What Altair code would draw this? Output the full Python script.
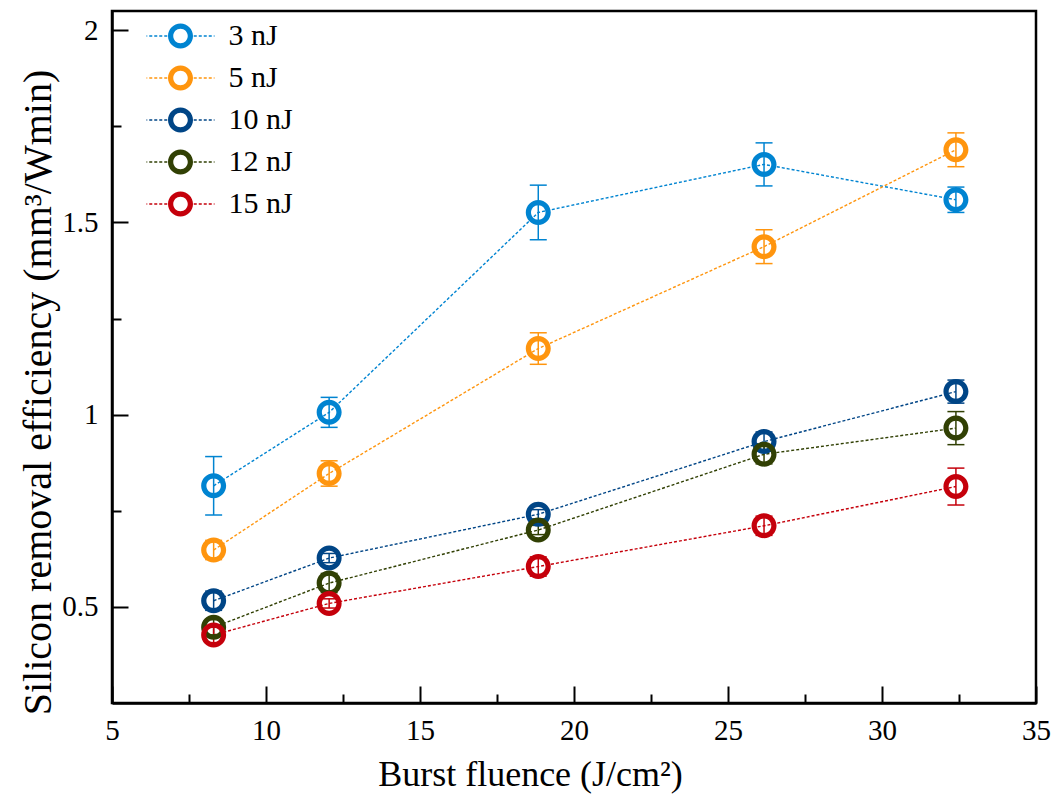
import altair as alt
import pandas as pd

# ---------------- data ----------------
fluence = [8.3, 12.05, 18.84, 26.17, 32.4]
series = ["3 nJ", "5 nJ", "10 nJ", "12 nJ", "15 nJ"]
colors = ["#0084d1", "#ff950e", "#004586", "#314004", "#c5000b"]

eff_3nJ = [0.815, 1.006, 1.526, 1.651, 1.559]
err_3nJ = [0.076, 0.039, 0.071, 0.056, 0.033]
eff_5nJ = [0.648, 0.847, 1.172, 1.437, 1.689]
err_5nJ = [0.025, 0.033, 0.041, 0.044, 0.044]
eff_10nJ = [0.516, 0.627, 0.741, 0.930, 1.060]
err_10nJ = [0.025, 0.012, 0.012, 0.025, 0.030]
eff_12nJ = [0.447, 0.562, 0.700, 0.897, 0.965]
err_12nJ = [0.020, 0.025, 0.012, 0.025, 0.043]
eff_15nJ = [0.427, 0.509, 0.605, 0.711, 0.813]
err_15nJ = [0.020, 0.012, 0.025, 0.025, 0.048]

x_ticks = [5, 7.5, 10, 12.5, 15, 17.5, 20, 22.5, 25, 27.5, 30, 32.5, 35]
y_ticks = [0.5, 0.75, 1.0, 1.25, 1.5, 1.75, 2.0]

effs = [eff_3nJ, eff_5nJ, eff_10nJ, eff_12nJ, eff_15nJ]
errs = [err_3nJ, err_5nJ, err_10nJ, err_12nJ, err_15nJ]
rows = []
for s, ev, er in zip(series, effs, errs):
    for f, v, e in zip(fluence, ev, er):
        rows.append({"series": s, "fluence": f, "eff": v, "lo": v - e, "hi": v + e})
df = pd.DataFrame(rows)

# ---------------- styling ----------------
FONT = "Liberation Serif"

r_in = 0.58
ANNULUS = ("M -1 0 A 1 1 0 1 0 1 0 A 1 1 0 1 0 -1 0 Z "
           f"M -{r_in} 0 A {r_in} {r_in} 0 1 1 {r_in} 0 A {r_in} {r_in} 0 1 1 -{r_in} 0 Z")

# legend symbol: ring + dotted line through it (unit = 12.5 px)
dash_parts = []
half_t = 0.06
pos = 1.06
while pos < 2.72:
    end = min(pos + 0.24, 2.72)
    dash_parts.append(f"M {pos:.3f} -{half_t} H {end:.3f} V {half_t} H {pos:.3f} Z")
    dash_parts.append(f"M -{end:.3f} -{half_t} H -{pos:.3f} V {half_t} H -{end:.3f} Z")
    pos += 0.40
LEGEND_SYMBOL = ANNULUS + " " + " ".join(dash_parts)

x_scale = alt.Scale(domain=[5, 35], nice=False, zero=False)
y_scale = alt.Scale(domain=[0.25, 2.05], nice=False, zero=False)

x_axis = alt.Axis(
    values=x_ticks,
    labelExpr="datum.value % 5 == 0 ? format(datum.value, 'd') : ''",
    tickSize={"condition": {"test": "datum.value % 5 == 0", "value": -17}, "value": -9},
    tickWidth=2, tickColor="black",
    domainColor="black", domainWidth=2.5,
    grid=False, labelFlush=False, labelOverlap=False,
    labelFont=FONT, labelFontSize=29, labelColor="black", labelPadding=30,
    title="Burst fluence (J/cm²)", titleFont=FONT, titleFontSize=36,
    titleFontWeight="normal", titleColor="black",
    titleX=418, titleY=82, titleBaseline="alphabetic", titleAlign="center",
)
y_axis = alt.Axis(
    values=y_ticks,
    labelExpr="datum.value % 0.5 == 0 ? format(datum.value, '~g') : ''",
    tickSize={"condition": {"test": "datum.value % 0.5 == 0", "value": -16}, "value": -9},
    tickWidth=2, tickColor="black",
    domainColor="black", domainWidth=2.5,
    grid=False, labelFlush=False, labelOverlap=False,
    labelFont=FONT, labelFontSize=29, labelColor="black", labelPadding=30,
    title="Silicon removal efficiency (mm³/Wmin)", titleFont=FONT, titleFontSize=40,
    titleFontWeight="normal", titleColor="black",
    titleX=-62, titleY=381, titleBaseline="alphabetic", titleAlign="center", titleAngle=-90,
)

# stroke scale listed in reverse order (same mapping) so its hidden legend
# is not merged with the colour legend
stroke_scale = alt.Scale(domain=series[::-1], range=colors[::-1])
color_scale = alt.Scale(domain=series, range=colors)

X = alt.X("fluence:Q", scale=x_scale, axis=x_axis)
Y = alt.Y("eff:Q", scale=y_scale, axis=y_axis)
STROKE = alt.Stroke("series:N", scale=stroke_scale, legend=None)

base = alt.Chart(df)

lines = base.mark_line(strokeDash=[3, 2], strokeWidth=1.4).encode(
    x=X, y=Y, stroke=STROKE, detail="series:N"
)

bars = base.mark_rule(strokeWidth=1.5).encode(
    x=X,
    y=alt.Y("lo:Q", scale=y_scale, axis=y_axis),
    y2="hi:Q",
    stroke=STROKE,
)
cap_lo = base.mark_point(shape="stroke", size=289, strokeWidth=1.5, filled=False, opacity=1).encode(
    x=X, y=alt.Y("lo:Q", scale=y_scale, axis=y_axis), stroke=STROKE
)
cap_hi = base.mark_point(shape="stroke", size=289, strokeWidth=1.5, filled=False, opacity=1).encode(
    x=X, y=alt.Y("hi:Q", scale=y_scale, axis=y_axis), stroke=STROKE
)

points = base.mark_point(shape=ANNULUS, size=625, filled=True, opacity=1, strokeWidth=0).encode(
    x=X, y=Y,
    color=alt.Color(
        "series:N", scale=color_scale,
        legend=alt.Legend(
            title=None, orient="none", legendX=53.5, legendY=10,
            symbolType=LEGEND_SYMBOL, symbolSize=625, symbolStrokeWidth=0,
            symbolOpacity=1,
            labelFont=FONT, labelFontSize=30, labelColor="black",
            labelOffset=33, rowPadding=12, padding=0,
        ),
    ),
)

chart = alt.layer(lines, bars, cap_lo, cap_hi, points).properties(
    width=924, height=692,
    padding={"left": 112, "top": 11, "right": 21, "bottom": 93},
    autosize="none",
    background="white",
).configure_view(stroke="black", strokeWidth=2.5)

chart.save("out.html", embed_options={"renderer": "svg", "actions": False})
